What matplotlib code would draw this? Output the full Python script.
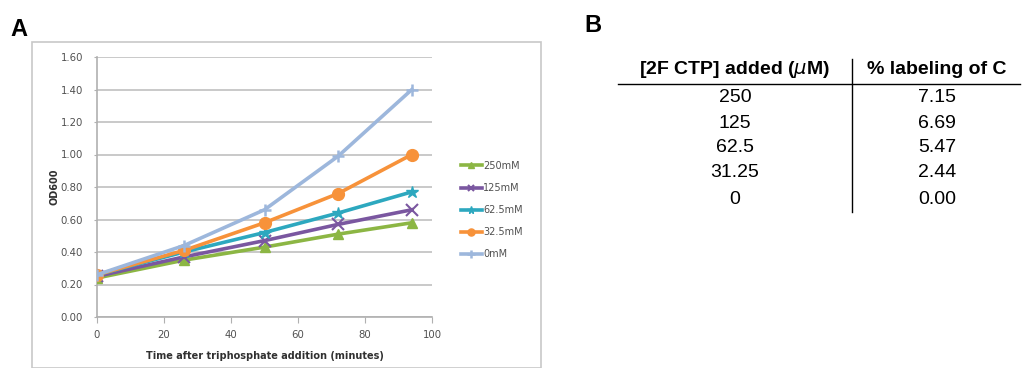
import matplotlib
matplotlib.use("Agg")
import matplotlib.pyplot as plt
from matplotlib.patches import Rectangle
from matplotlib.lines import Line2D

# time points (minutes)
time = [0, 26, 50, 72, 94]

# OD600 readings per concentration
od_250 = [0.24, 0.35, 0.43, 0.51, 0.58]
od_125 = [0.25, 0.37, 0.47, 0.57, 0.66]
od_62 = [0.26, 0.40, 0.52, 0.64, 0.77]
od_32 = [0.26, 0.41, 0.58, 0.76, 1.00]
od_0 = [0.26, 0.44, 0.66, 0.99, 1.40]

labels = ["250mM", "125mM", "62.5mM", "32.5mM", "0mM"]
yticks = [0.0, 0.2, 0.4, 0.6, 0.8, 1.0, 1.2, 1.4, 1.6]
xticks = [0, 20, 40, 60, 80, 100]

# table in panel B
conc = ["250", "125", "62.5", "31.25", "0"]
labeling = ["7.15", "6.69", "5.47", "2.44", "0.00"]

W, H = 1033, 368
fig = plt.figure(figsize=(W / 100, H / 100), dpi=100)

# chart frame (Excel style border)
fig.patches.append(Rectangle((32 / W, 0), (541 - 32) / W, 1 - 42 / H,
                             transform=fig.transFigure, fill=False,
                             edgecolor="#c8c8c8", linewidth=1.2))

ax = fig.add_axes([97 / W, 1 - 317 / H, (432 - 97) / W, (317 - 57) / H])

styles = [
    (od_250, "#8cb644", "^", 7, None),
    (od_125, "#7a57a0", "x", 8, 1.5),
    (od_62, "#2da8bf", "*", 9, None),
    (od_32, "#f7923a", "o", 8.5, None),
    (od_0, "#9db7dc", "+", 9, 1.8),
]
handles = []
for (vals, col, mk, ms, mew), lab in zip(styles, labels):
    kw = {}
    if mew:
        kw["markeredgewidth"] = mew
    line, = ax.plot(time, vals, color=col, linewidth=2.6, marker=mk,
                    markersize=ms, markeredgecolor=col, label=lab, zorder=3, **kw)
    handles.append(line)

ax.set_xlim(0, 100)
ax.set_ylim(0, 1.6)
ax.set_xticks(xticks)
ax.set_yticks(yticks)
ax.set_yticklabels([f"{v:.2f}" for v in yticks])
ax.yaxis.grid(True, color="#c0c0c0", linewidth=1.2)
ax.set_axisbelow(True)
for s in ["top", "right"]:
    ax.spines[s].set_visible(False)
for s in ["left", "bottom"]:
    ax.spines[s].set_color("#b0b0b0")
    ax.spines[s].set_linewidth(1.2)
ax.tick_params(axis="both", colors="#b0b0b0", labelcolor="#505050",
               labelsize=7.3, length=4)
ax.tick_params(axis="x", pad=5)
ax.tick_params(axis="y", length=2, pad=8)
ax.set_xlabel("Time after triphosphate addition (minutes)", fontsize=7,
              fontweight="bold", color="#303030", labelpad=8)
ax.set_ylabel("OD600", fontsize=7, fontweight="bold", color="#303030", labelpad=1)

ax.legend(handles=handles, loc="upper left",
          bbox_to_anchor=(452 / W, 1 - 152 / H), bbox_transform=fig.transFigure,
          frameon=False, fontsize=7, labelspacing=1.25, handlelength=2.2,
          handletextpad=0.1, markerscale=0.6, labelcolor="#505050")

# panel labels
fig.text(10 / W, 1 - 30 / H, "A", fontsize=17, fontweight="bold",
         family="Liberation Sans", va="center")
fig.text(584 / W, 1 - 25 / H, "B", fontsize=17, fontweight="bold",
         family="Liberation Sans", va="center")

# table
c1, c2 = 735 / W, 937 / W
fs = 14
fig.text(c1, 1 - 70 / H, "[2F CTP] added ($\\mu$M)", fontsize=fs, fontweight="bold",
         family="Liberation Sans", ha="center", va="center")
fig.text(c2, 1 - 70 / H, "% labeling of C", fontsize=fs, fontweight="bold",
         family="Liberation Sans", ha="center", va="center")
fig.lines.append(Line2D([618 / W, 1020 / W], [1 - 84 / H, 1 - 84 / H],
                        transform=fig.transFigure, color="black", linewidth=1))
fig.lines.append(Line2D([852 / W, 852 / W], [1 - 59 / H, 1 - 212 / H],
                        transform=fig.transFigure, color="black", linewidth=1))
row_y = [98, 123, 148, 173, 199]
for yy, a, b in zip(row_y, conc, labeling):
    fig.text(c1, 1 - yy / H, a, fontsize=fs, family="Liberation Sans",
             ha="center", va="center")
    fig.text(c2, 1 - yy / H, b, fontsize=fs, family="Liberation Sans",
             ha="center", va="center")

fig.savefig("out.png", dpi=100)
